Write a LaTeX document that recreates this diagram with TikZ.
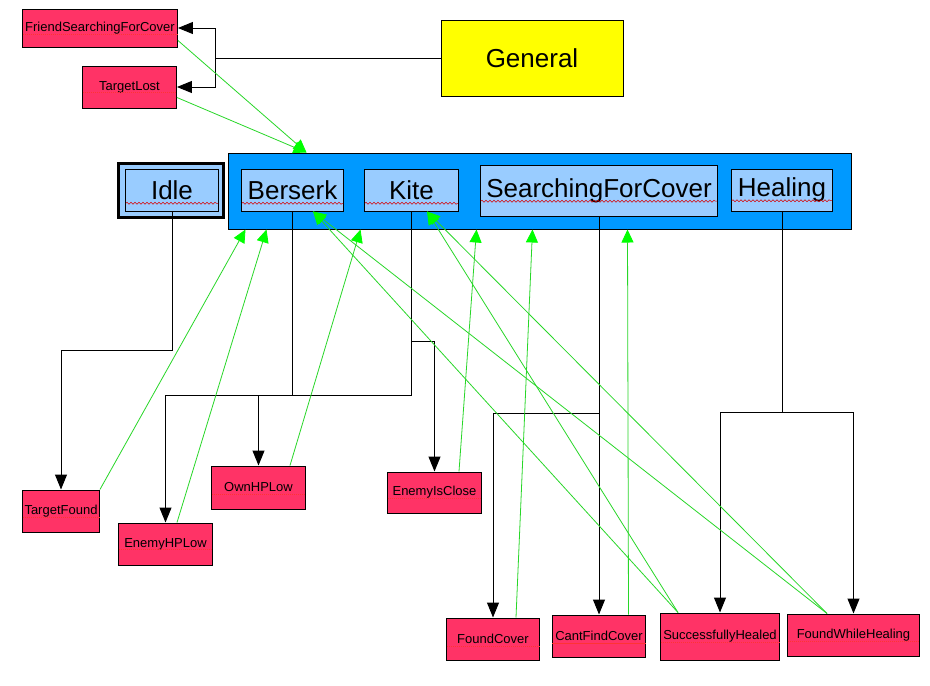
\documentclass[tikz,border=0pt]{standalone}
\usepackage{fontspec}
\setmainfont{Liberation Sans}
\usetikzlibrary{arrows.meta,decorations.pathmorphing}
\definecolor{condred}{RGB}{255,51,102}
\definecolor{bigblue}{RGB}{0,153,255}
\definecolor{stateblue}{RGB}{153,204,255}
\definecolor{genyellow}{RGB}{255,255,0}
\definecolor{trgreen}{RGB}{40,215,40}
\definecolor{headgreen}{RGB}{0,255,0}
\newcommand\redwave[1]{\tikz[baseline=(wt.base)]{\node[inner sep=0pt] (wt) {#1};
  \draw[red!85!black, line width=0.5pt, decorate, decoration={snake, amplitude=1pt, segment length=4pt}] ([yshift=-4pt]wt.base west) -- ([yshift=-4pt]wt.base east);}}
\newcommand\reddots[1]{\tikz[baseline=(dt.base)]{\node[inner sep=0pt] (dt) {#1};
  \draw[red!80, line width=0.5pt, dash pattern=on 1.2pt off 0.8pt] ([yshift=-2.5pt]dt.base west) -- ([yshift=-2.5pt]dt.base east);}}
\tikzset{
  cond/.style={draw=black, line width=1pt, fill=condred, inner sep=0pt, font=\fontsize{13}{15}\selectfont},
  statebox/.style={draw=black, line width=0.8pt, fill=stateblue, inner sep=0pt, font=\fontsize{26}{30}\selectfont},
  blk/.style={draw=black, line width=1pt},
  blkarrow/.style={blk, -{Triangle[length=15pt,width=12pt]}},
  trans/.style={draw=trgreen, line width=0.8pt, -{Triangle[length=13pt,width=12pt,color=headgreen]}}
}
\begin{document}
\begin{tikzpicture}[x=1pt,y=-1pt]
\useasboundingbox[fill=white] (0,0) rectangle (930,686);
% containers
\node[draw=black, line width=1pt, fill=genyellow, minimum width=182, minimum height=76, font=\fontsize{26}{30}\selectfont] (general) at (532,58) {General};
\node[draw=black, line width=1pt, fill=bigblue, minimum width=623, minimum height=76] (blue) at (539.5,191) {};
% states
\node[draw=black, line width=3pt, fill=stateblue, minimum width=105, minimum height=54] (idleO) at (170.5,190) {};
\node[statebox, minimum width=92, minimum height=42] (idle) at (172,190) {\redwave{Idle}};
\node[statebox, minimum width=101, minimum height=42] (berserk) at (292.5,190) {\redwave{Berserk}};
\node[statebox, minimum width=93, minimum height=42] (kite) at (411.5,190) {\redwave{Kite}};
\node[statebox, minimum width=236, minimum height=51] (sfc) at (599,190.5) {\redwave{SearchingForCover}};
\node[statebox, minimum width=100, minimum height=42] (heal) at (782,190) {\redwave{Healing}};
% conditions
\node[cond, minimum width=154, minimum height=38] (fsfc) at (100,28) {\reddots{FriendSearchingForCover}};
\node[cond, minimum width=93, minimum height=42] (tlost) at (129.5,87) {\reddots{TargetLost}};
\node[cond, minimum width=76, minimum height=42] (tfound) at (61,511) {\reddots{TargetFound}};
\node[cond, minimum width=93, minimum height=42] (ehplow) at (165.5,544) {\reddots{EnemyHPLow}};
\node[cond, minimum width=93, minimum height=43] (ownhp) at (258.5,487.5) {\reddots{OwnHPLow}};
\node[cond, minimum width=93, minimum height=41] (eic) at (434.5,492.5) {\reddots{EnemyIsClose}};
\node[cond, minimum width=92, minimum height=42] (fcover) at (493,639) {\reddots{FoundCover}};
\node[cond, minimum width=93, minimum height=42] (cfc) at (599,636) {\reddots{CantFindCover}};
\node[cond, minimum width=118, minimum height=47] (shealed) at (720,636.5) {\reddots{SuccessfullyHealed}};
\node[cond, minimum width=131, minimum height=42] (fwh) at (853.5,635) {\reddots{FoundWhileHealing}};
% junction coordinates
\coordinate (gj) at (215,58);
\coordinate (busI) at (0,350);
\coordinate (busBK) at (0,395);
\coordinate (busK) at (0,341);
\coordinate (busS) at (0,413);
\coordinate (busH) at (0,412);
% black connectors
\draw[blk] (general.west) -- (gj);
\draw[blkarrow] (gj) |- (fsfc.east);
\draw[blkarrow] (gj) |- (tlost.east);
\draw[blkarrow] (idle.south) -- (idle.south |- busI) -| (tfound.north);
\draw[blk] (berserk.south) -- (berserk.south |- busBK);
\draw[blk] (kite.south) -- (kite.south |- busBK);
\draw[blk] (ehplow.north |- busBK) -- (kite.south |- busBK);
\draw[blkarrow] (ehplow.north |- busBK) -- (ehplow.north);
\draw[blkarrow] (ownhp.north |- busBK) -- (ownhp.north);
\draw[blkarrow] (kite.south |- busK) -| (eic.north);
\draw[blkarrow] (sfc.south) -- (cfc.north);
\draw[blkarrow] (sfc.south |- busS) -| (fcover.north);
\draw[blk] (heal.south) -- (heal.south |- busH);
\draw[blkarrow] (heal.south |- busH) -| (shealed.north);
\draw[blkarrow] (heal.south |- busH) -| (fwh.north);
% green transitions
\draw[trans] ([yshift=7pt]fsfc.south east) -- ([xshift=79pt]blue.north west);
\draw[trans] ([yshift=11pt]tlost.south east) -- ([xshift=79pt]blue.north west);
\draw[trans] (tfound.north east) -- ([xshift=18pt]blue.south west);
\draw[trans] ([xshift=11.5pt]ehplow.north) -- ([xshift=39pt]blue.south west);
\draw[trans] ([xshift=31.5pt]ownhp.north) -- ([xshift=133pt]blue.south west);
\draw[trans] ([xshift=24.5pt]eic.north) -- ([xshift=249pt]blue.south west);
\draw[trans] ([xshift=23pt]fcover.north) -- ([xshift=305pt]blue.south west);
\draw[trans] ([xshift=29.5pt]cfc.north) -- ([xshift=400pt]blue.south west);
\draw[trans] ([xshift=-42pt]shealed.north) -- ([xshift=20.5pt]berserk.south);
\draw[trans] ([xshift=-42pt]shealed.north) -- ([xshift=15.5pt]kite.south);
\draw[trans] ([xshift=-26.5pt]fwh.north) -- ([xshift=20.5pt]berserk.south);
\draw[trans] ([xshift=-26.5pt]fwh.north) -- ([xshift=15.5pt]kite.south);
\end{tikzpicture}
\end{document}
